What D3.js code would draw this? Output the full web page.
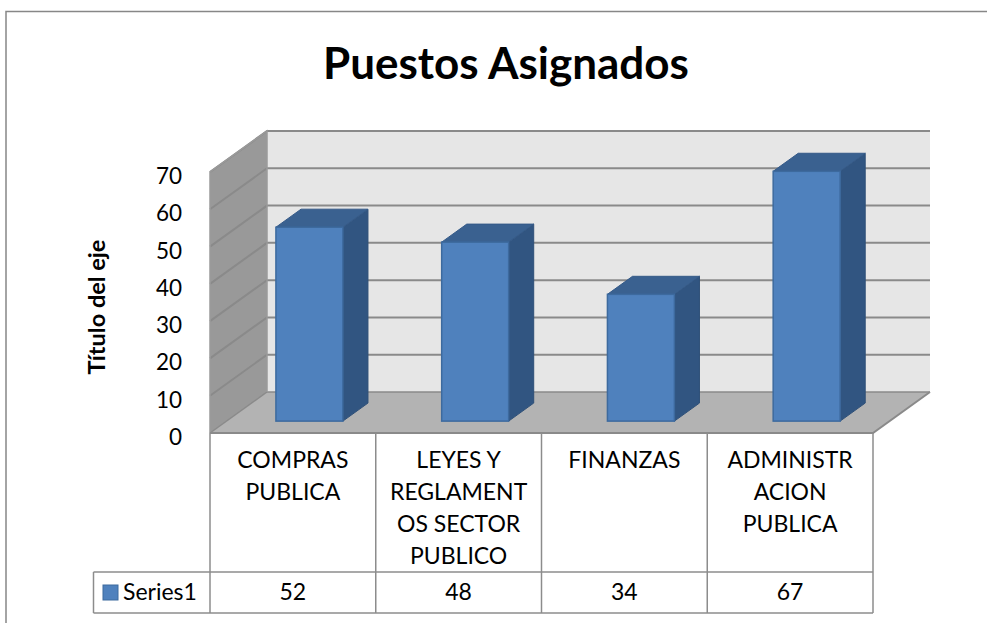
<!DOCTYPE html>
<html>
<head>
<meta charset="utf-8">
<script src="https://cdn.jsdelivr.net/npm/d3@7"></script>
<style>
  html, body { margin: 0; padding: 0; background: #fff; }
  svg { display: block; }
  text { font-family: Lato, "Liberation Sans", sans-serif; fill: #000; }
</style>
</head>
<body>
<svg id="chart" width="987" height="623"></svg>
<script>
// ---- data ----
const chartTitle = "Puestos Asignados";
const axisTitle = "Título del eje";
const seriesName = "Series1";
const categories = ["COMPRAS PUBLICA", "LEYES Y REGLAMENTOS SECTOR PUBLICO", "FINANZAS", "ADMINISTRACION PUBLICA"];
const categoryLines = [
  ["COMPRAS", "PUBLICA"],
  ["LEYES Y", "REGLAMENT", "OS SECTOR", "PUBLICO"],
  ["FINANZAS"],
  ["ADMINISTR", "ACION", "PUBLICA"]
];
const values = [52, 48, 34, 67];
const yTicks = [0, 10, 20, 30, 40, 50, 60, 70];

// ---- layout ----
const svg = d3.select("#chart");
const W = 987, H = 623;
const plotLeft = 210, plotRight = 873;
const yBottom = 433, yTop = 172;
const depthDX = 57, depthDY = -41;

const x = d3.scaleBand().domain(categories).range([plotLeft, plotRight]).paddingInner(0).paddingOuter(0);
const y = d3.scaleLinear().domain([0, 70]).range([yBottom, yTop]);
const depth = d3.scaleLinear().domain([0, 1]).range([0, 1]);

function P(px, v, d) { // px: front x, v: value, d: depth fraction
  return [px + depth(d) * depthDX, y(v) + depth(d) * depthDY];
}
const line = d3.line();

// outer chart border
svg.append("path")
  .attr("d", `M6,${H} L6,11.5 L${W},11.5`)
  .attr("fill", "none").attr("stroke", "#878787").attr("stroke-width", 1.5);

// title
svg.append("text")
  .attr("x", 506).attr("y", 79)
  .attr("text-anchor", "middle")
  .attr("font-weight", "bold").attr("font-size", 44)
  .text(chartTitle);

// axis title
svg.append("text")
  .attr("transform", "translate(105,307) rotate(-90)")
  .attr("text-anchor", "middle")
  .attr("font-weight", "bold").attr("font-size", 23.5)
  .text(axisTitle);

const gridColor = "#8a8a8a";
const yMax = 70;

// back wall
svg.append("path")
  .attr("d", line([P(plotLeft, 0, 1), P(plotLeft, yMax, 1), P(plotRight, yMax, 1), P(plotRight, 0, 1)]) + "Z")
  .attr("fill", "#e6e6e6").attr("stroke", "none");

// side wall
svg.append("path")
  .attr("d", line([P(plotLeft, 0, 0), P(plotLeft, yMax, 0), P(plotLeft, yMax, 1), P(plotLeft, 0, 1)]) + "Z")
  .attr("fill", "#999999").attr("stroke", "none");

// floor
svg.append("path")
  .attr("d", line([P(plotLeft, 0, 0), P(plotRight, 0, 0), P(plotRight, 0, 1), P(plotLeft, 0, 1)]) + "Z")
  .attr("fill", "#b3b3b3").attr("stroke", "none");

// gridlines on back & side walls
yTicks.forEach(t => {
  svg.append("path")
    .attr("d", line([P(plotLeft, t, 0), P(plotLeft, t, 1), P(plotRight, t, 1)]))
    .attr("fill", "none").attr("stroke", gridColor).attr("stroke-width", t === 0 ? 1.5 : 2);
});
// wall edges
svg.append("path")
  .attr("d", line([P(plotLeft, 0, 0), P(plotLeft, yMax, 0), P(plotLeft, yMax, 1), P(plotLeft, 0, 1)]))
  .attr("fill", "none").attr("stroke", "#9a9a9a").attr("stroke-width", 1.5);
svg.append("path")
  .attr("d", line([P(plotLeft, 0, 0), P(plotRight, 0, 0), P(plotRight, 0, 1)]))
  .attr("fill", "none").attr("stroke", gridColor).attr("stroke-width", 2);

// y tick labels
svg.selectAll(".ytick").data(yTicks).enter().append("text")
  .attr("class", "ytick")
  .attr("x", 182).attr("y", d => y(d) + 12)
  .attr("text-anchor", "end").attr("font-size", 22.5)
  .text(d => d);

// bars
const barFrac = 0.404;
const d0 = 0.29, d1 = 0.73;
const bars = svg.selectAll(".bar").data(categories.map((c, i) => ({ c, v: values[i] }))).enter().append("g");
bars.each(function (d) {
  const g = d3.select(this);
  const bw = x.bandwidth() * barFrac;
  const xl = x(d.c) + (x.bandwidth() - bw) / 2;
  const xr = xl + bw;
  // side face
  g.append("path")
    .attr("d", line([P(xr, 0, d0), P(xr, d.v, d0), P(xr, d.v, d1), P(xr, 0, d1)]) + "Z")
    .attr("fill", "#315581").attr("stroke", "#2f5078").attr("stroke-width", 1);
  // top face
  g.append("path")
    .attr("d", line([P(xl, d.v, d0), P(xr, d.v, d0), P(xr, d.v, d1), P(xl, d.v, d1)]) + "Z")
    .attr("fill", "#3a6190").attr("stroke", "#355a88").attr("stroke-width", 1);
  // front face
  const fl = P(xl, d.v, d0), fr = P(xr, 0, d0);
  g.append("rect")
    .attr("x", fl[0]).attr("y", fl[1])
    .attr("width", fr[0] - fl[0]).attr("height", fr[1] - fl[1])
    .attr("fill", "#4f81bd").attr("stroke", "#3d6a9e").attr("stroke-width", 1.5);
});

// data table
const tableTop = yBottom, rowSplit = 572, tableBottom = 613, legendLeft = 93.5;
const tableColor = "#8c8c8c";
const colEdges = categories.map(c => x(c)).concat([plotRight]);
colEdges.forEach(e => {
  svg.append("line").attr("x1", e).attr("x2", e).attr("y1", tableTop).attr("y2", tableBottom)
    .attr("stroke", tableColor).attr("stroke-width", 1.5);
});
svg.append("line").attr("x1", legendLeft).attr("x2", plotRight).attr("y1", rowSplit).attr("y2", rowSplit)
  .attr("stroke", tableColor).attr("stroke-width", 1.5);
svg.append("line").attr("x1", legendLeft).attr("x2", plotRight).attr("y1", tableBottom).attr("y2", tableBottom)
  .attr("stroke", tableColor).attr("stroke-width", 1.5);
svg.append("line").attr("x1", legendLeft).attr("x2", legendLeft).attr("y1", rowSplit).attr("y2", tableBottom)
  .attr("stroke", tableColor).attr("stroke-width", 1.5);

// category labels
categories.forEach((c, i) => {
  const cx = x(c) + x.bandwidth() / 2;
  const t = svg.append("text").attr("text-anchor", "middle").attr("font-size", 23);
  categoryLines[i].forEach((ln, j) => {
    t.append("tspan").attr("x", cx).attr("y", 468 + j * 32).text(ln);
  });
});

// values row
svg.selectAll(".val").data(values).enter().append("text")
  .attr("class", "val")
  .attr("x", (d, i) => x(categories[i]) + x.bandwidth() / 2)
  .attr("y", 600)
  .attr("text-anchor", "middle").attr("font-size", 23)
  .text(d => d);

// legend key
svg.append("rect").attr("x", 103).attr("y", 585).attr("width", 15).attr("height", 15)
  .attr("fill", "#4f81bd").attr("stroke", "#3d6a9e").attr("stroke-width", 1);
svg.append("text").attr("x", 123).attr("y", 600).attr("font-size", 23).text(seriesName);
</script>
</body>
</html>
